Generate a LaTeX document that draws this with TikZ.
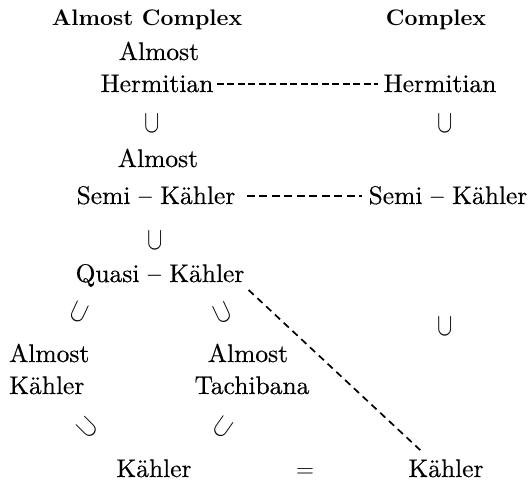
\documentclass[tikz,border=0pt]{standalone}
\usepackage{fontspec}
\setmainfont{lmroman10-regular.otf}[BoldFont=lmroman10-bold.otf]
\newfontfamily\lblfont{lmroman10-regular.otf}[FakeBold=0.4]
\usetikzlibrary{calc}
\newcommand{\incsym}{\scalebox{2.3}[3.2]{$\cup$}}
\tikzset{
  lbl/.style={inner sep=1pt, font=\lblfont\fontsize{25.5}{30}\selectfont, anchor=base},
  head/.style={inner sep=1pt, font=\fontsize{22.5}{27}\selectfont\bfseries, anchor=base},
  incl/.style={inner sep=0pt},
  hdashA/.style={line width=1.6pt, dash pattern=on 7pt off 3.5pt},
  hdashB/.style={line width=1.6pt, dash pattern=on 8pt off 4.5pt},
  ddash/.style={line width=1.7pt, dash pattern=on 7pt off 5pt}
}
\begin{document}
\begin{tikzpicture}[x=1pt,y=-1pt]
\useasboundingbox (0,0) rectangle (531,483);
\node[head] (hA) at (147,25) {Almost Complex};
\node[head] (hC) at (436,25) {Complex};
\node[lbl] (a1) at (159,60) {Almost};
\node[lbl] (hL) at (157,92) {Hermitian};
\node[lbl] (hR) at (440,92) {Hermitian};
\node[incl] (u1) at (152,124) {\incsym};
\node[incl] (u1r) at (445,124) {\incsym};
\node[lbl] (a2) at (158,167) {Almost};
\node[lbl] (sL) at (156,204) {Semi – Kähler};
\node[lbl] (sR) at (448,204) {Semi – Kähler};
\node[incl] (u2) at (155,241) {\incsym};
\node[lbl] (q) at (160,282) {Quasi – Kähler};
\node[incl,rotate=-25] (u3) at (79,313) {\incsym};
\node[incl,rotate=25] (u4) at (223,313) {\incsym};
\node[incl] (u5) at (445,327) {\incsym};
\node[lbl,anchor=base west] (aK1) at (8,362) {Almost};
\node[lbl,anchor=base west] (aK2) at (8,394) {Kähler};
\node[lbl] (aT1) at (248,362) {Almost};
\node[lbl] (aT2) at (252,394) {Tachibana};
\node[incl,rotate=45] (u6) at (88,428) {\incsym};
\node[incl,rotate=-35] (u7) at (223,428) {\incsym};
\node[lbl] (k) at (154,477) {Kähler};
\node[lbl] (eq) at (305,477) {$=$};
\node[lbl] (kR) at (446,477) {Kähler};
\draw[hdashA] ($(hL.base east)+(2,-8)$) -- ($(hR.base west)+(-4,-8)$);
\draw[hdashB] ($(sL.base east)+(10,-8)$) -- ($(sR.base west)+(-5,-8)$);
\draw[ddash] ($(q.base east)+(3,8)$) -- ($(kR.north west)+(13,-8)$);
\end{tikzpicture}
\end{document}
